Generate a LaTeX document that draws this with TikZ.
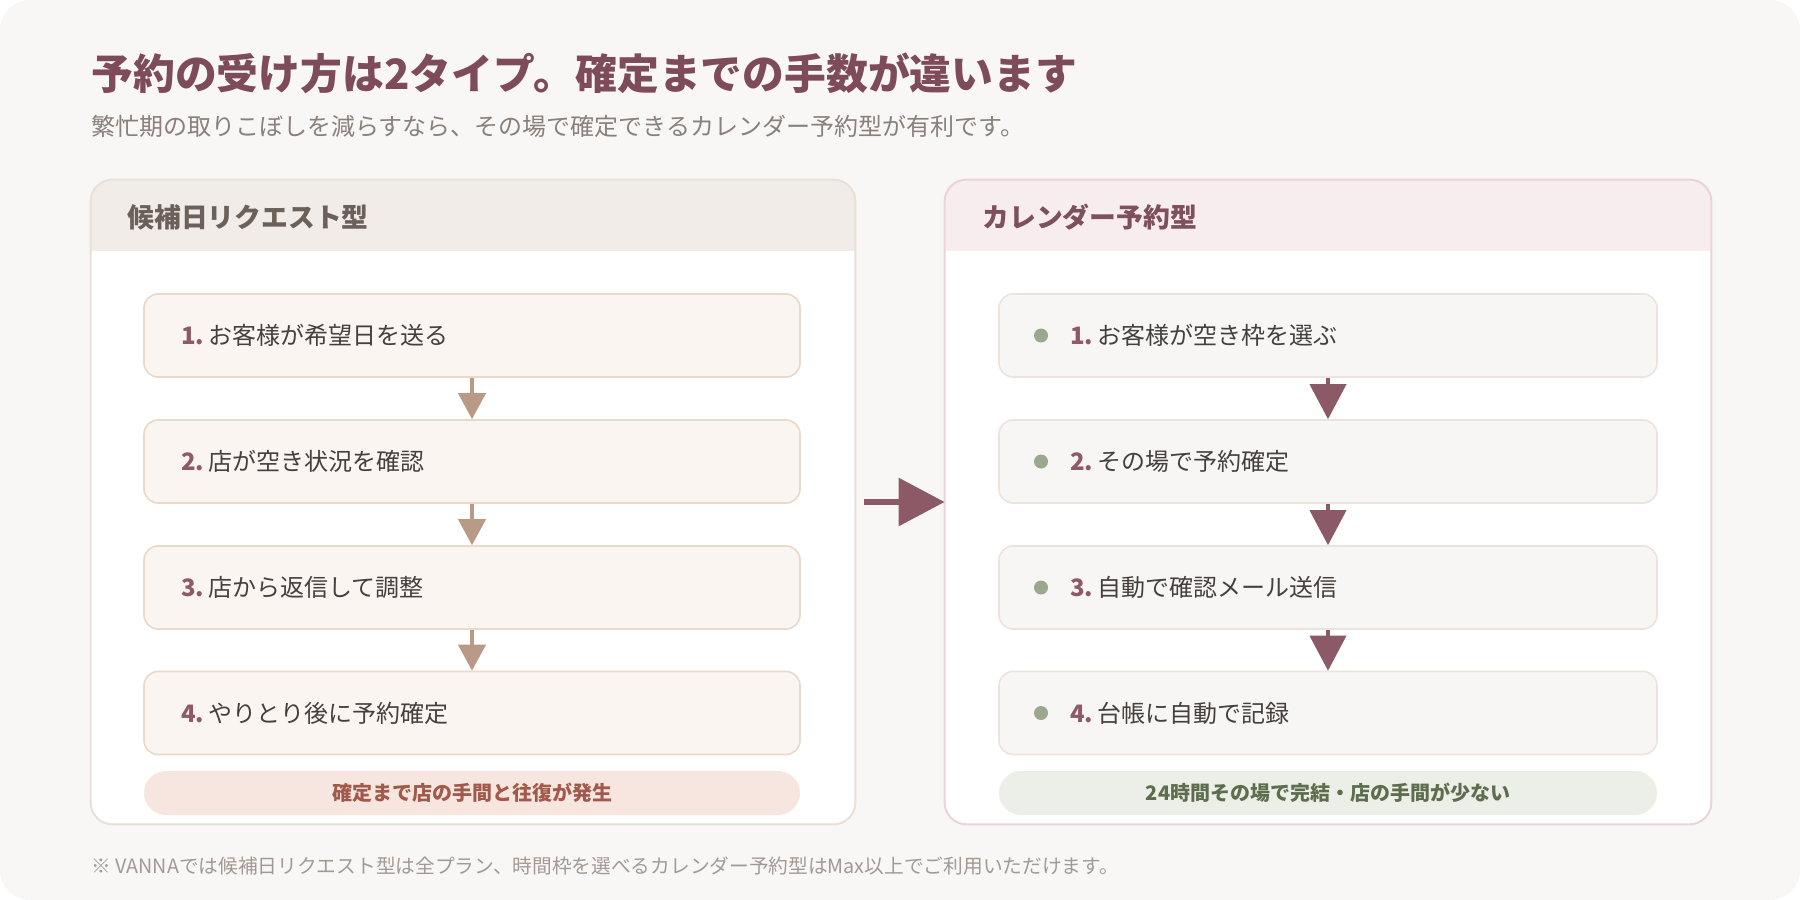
\documentclass[tikz,border=0pt]{standalone}
\usepackage{fontspec}
\setmainfont{Noto Sans CJK JP}
\usetikzlibrary{positioning,arrows.meta}

\definecolor{paper}{HTML}{F8F7F5}
\definecolor{titlecol}{HTML}{7D4B59}
\definecolor{subcol}{HTML}{8A807B}
\definecolor{footcol}{HTML}{A39994}
\definecolor{stepnum}{HTML}{8E5A68}
\definecolor{steptext}{HTML}{45403D}
% left column (request type)
\definecolor{lhead}{HTML}{F1ECE8}
\definecolor{lheadtxt}{HTML}{6B605A}
\definecolor{lline}{HTML}{E9E0D8}
\definecolor{lboxfill}{HTML}{FAF5F1}
\definecolor{lboxline}{HTML}{EAD9CB}
\definecolor{larrow}{HTML}{B89A86}
\definecolor{lnote}{HTML}{F7E6DF}
\definecolor{lnotetxt}{HTML}{A0594A}
% right column (calendar type)
\definecolor{rhead}{HTML}{F7EDEF}
\definecolor{rheadtxt}{HTML}{7E4F5C}
\definecolor{rline}{HTML}{E9D4DA}
\definecolor{rboxfill}{HTML}{F8F6F4}
\definecolor{rboxline}{HTML}{ECE3DF}
\definecolor{rarrow}{HTML}{8C5A67}
\definecolor{rnote}{HTML}{EBEFE7}
\definecolor{rnotetxt}{HTML}{5E6D4E}
\definecolor{bulletcol}{HTML}{9CA88D}

\newcommand{\stepno}[1]{{\bfseries\color{stepnum}#1}\,}

\begin{document}
\begin{tikzpicture}[
  x=0.5pt, y=-0.5pt,
  font=\fontsize{12}{14}\selectfont,
  panel/.style={rectangle, rounded corners=11pt, fill=white, minimum width=382pt,
                minimum height=322pt, inner sep=0pt},
  headtxt/.style={anchor=west, inner sep=0pt, font=\fontsize{13.4}{16}\selectfont\bfseries},
  stepbox/.style={rectangle, rounded corners=7pt, line width=0.8pt, minimum height=41.5pt,
                  align=left, text=steptext},
  lstep/.style={stepbox, fill=lboxfill, draw=lboxline, text width=291pt, inner xsep=18.5pt},
  rstep/.style={stepbox, fill=rboxfill, draw=rboxline, text width=258pt, inner xsep=35.5pt},
  bullet/.style={circle, fill=bulletcol, minimum size=7pt, inner sep=0pt},
  note/.style={rectangle, rounded corners=11pt, minimum height=22pt, inner sep=0pt,
               font=\fontsize{10}{12}\selectfont\bfseries},
  larr/.style={-{Triangle[width=13.5pt,length=13pt]}, line width=2pt, draw=larrow},
  rarr/.style={-{Triangle[width=18pt,length=17.5pt]}, line width=2pt, draw=rarrow},
  marr/.style={-{Triangle[width=23.5pt,length=23pt]}, line width=3pt, draw=rarrow,
               shorten <=4.5pt}
]
\useasboundingbox (0,0) rectangle (1800,900);
\fill[white] (0,0) rectangle (1800,900);
\fill[paper, rounded corners=15pt] (0,0) rectangle (1800,900);

% heading
\node[anchor=west, inner sep=0pt, text=titlecol, font=\fontsize{20.9}{25}\selectfont\bfseries]
  (title) at (91,73) {予約の受け方は2タイプ。確定までの手数が違います};
\node[anchor=west, inner sep=0pt, text=subcol, font=\fontsize{12}{14}\selectfont]
  (subtitle) at (91,126) {繁忙期の取りこぼしを減らすなら、その場で確定できるカレンダー予約型が有利です。};

% panels
\node[panel] (lpanel) at (473,502) {};
\node[panel, minimum width=383pt] (rpanel) at (1328,502) {};
\begin{scope}
  \clip[rounded corners=11pt] (lpanel.north west) rectangle (lpanel.south east);
  \fill[lhead] (lpanel.north west) rectangle (855,251);
\end{scope}
\begin{scope}
  \clip[rounded corners=11pt] (rpanel.north west) rectangle (rpanel.south east);
  \fill[rhead] (rpanel.north west) rectangle (1711,251);
\end{scope}
\draw[lline, line width=1pt, rounded corners=11pt] (lpanel.north west) rectangle (lpanel.south east);
\draw[rline, line width=1pt, rounded corners=11pt] (rpanel.north west) rectangle (rpanel.south east);

\node[headtxt, text=lheadtxt] (lhdr) at (127,217) {候補日リクエスト型};
\node[headtxt, text=rheadtxt] (rhdr) at (982,217) {カレンダー予約型};

% left steps
\node[lstep] (l1) at (472,335.5) {\stepno{1.}お客様が希望日を送る};
\node[lstep] (l2) at (472,461.5) {\stepno{2.}店が空き状況を確認};
\node[lstep] (l3) at (472,587.5) {\stepno{3.}店から返信して調整};
\node[lstep] (l4) at (472,713)   {\stepno{4.}やりとり後に予約確定};

\draw[larr] (l1.south) -- (l2.north);
\draw[larr] (l2.south) -- (l3.north);
\draw[larr] (l3.south) -- (l4.north);

\node[note, fill=lnote, text=lnotetxt, minimum width=328pt] (lnote) at (472,793)
  {確定まで店の手間と往復が発生};

% right steps
\node[rstep] (r1) at (1328,335.5) {\stepno{1.}お客様が空き枠を選ぶ};
\node[rstep] (r2) at (1328,461.5) {\stepno{2.}その場で予約確定};
\node[rstep] (r3) at (1328,587.5) {\stepno{3.}自動で確認メール送信};
\node[rstep] (r4) at (1328,713)   {\stepno{4.}台帳に自動で記録};

\foreach \i/\yy in {1/335.5, 2/461.5, 3/587.5, 4/713}
  \node[bullet] (b\i) at (1041,\yy) {};

\draw[rarr] (r1.south) -- (r2.north);
\draw[rarr] (r2.south) -- (r3.north);
\draw[rarr] (r3.south) -- (r4.north);

\node[note, fill=rnote, text=rnotetxt, minimum width=329pt] (rnote) at (1328,793)
  {24時間その場で完結・店の手間が少ない};

% link between the two panels
\draw[marr] (lpanel.east) -- (rpanel.west);

% footnote
\node[anchor=west, inner sep=0pt, text=footcol, font=\fontsize{9.85}{12}\selectfont]
  (foot) at (91,866) {※ VANNAでは候補日リクエスト型は全プラン、時間枠を選べるカレンダー予約型はMax以上でご利用いただけます。};
\end{tikzpicture}
\end{document}
